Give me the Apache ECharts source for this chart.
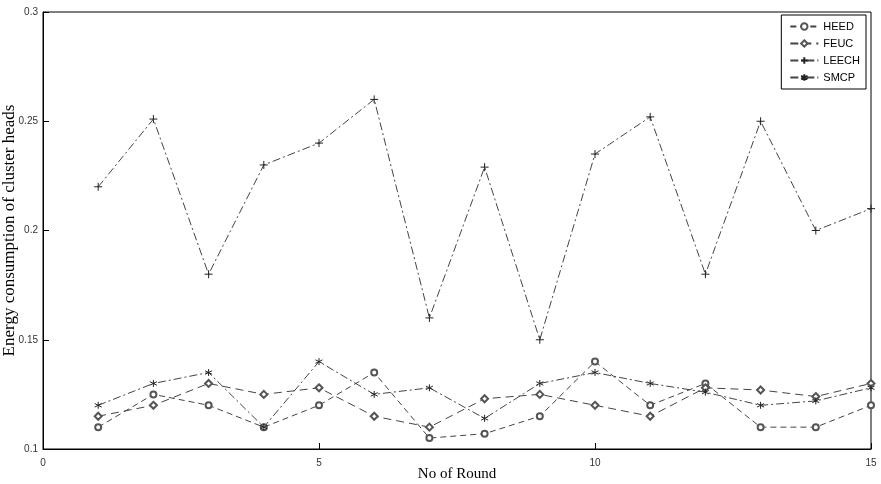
<!DOCTYPE html>
<html><head><meta charset="utf-8">
<script src="https://cdn.jsdelivr.net/npm/echarts@6/dist/echarts.min.js"></script>
<style>html,body{margin:0;padding:0;background:#fff}#c{width:881px;height:484px}</style>
</head><body><div id="c"></div>
<script>
const rounds = [1,2,3,4,5,6,7,8,9,10,11,12,13,14,15];
const heed  = [0.110,0.125,0.120,0.110,0.120,0.135,0.105,0.107,0.115,0.140,0.120,0.130,0.110,0.110,0.120];
const feuc  = [0.115,0.120,0.130,0.125,0.128,0.115,0.110,0.123,0.125,0.120,0.115,0.128,0.127,0.124,0.130];
const leech = [0.220,0.251,0.180,0.230,0.240,0.260,0.160,0.229,0.150,0.235,0.252,0.180,0.250,0.200,0.210];
const smcp  = [0.120,0.130,0.135,0.110,0.140,0.125,0.128,0.114,0.130,0.135,0.130,0.126,0.120,0.122,0.128];
const yTicks = [0.1,0.15,0.2,0.25,0.3];
const xTicks = [0,5,10,15];

const plusSym = 'path://M5,0L5,10M0,5L10,5';
const starSym = 'path://M5,0L5,10M0.7,2.5L9.3,7.5M0.7,7.5L9.3,2.5';
const markCol = '#555';
function pts(arr){ return rounds.map((r,i)=>[r,arr[i]]); }
function ser(name, arr, symbol, size, dash){
  const isPath = symbol.startsWith('path');
  return {
    name, type:'line', data:pts(arr), symbol, symbolSize:size, showAllSymbol:true,
    lineStyle:{color:'#444',width:1,type:dash},
    itemStyle: isPath ? {color:'rgba(0,0,0,0)', borderColor:'#222', borderWidth:1}
                      : {color:markCol, borderWidth:1},
    emphasis:{disabled:true}, animation:false, z:2
  };
}
const chart = echarts.init(document.getElementById('c'));
chart.setOption({
  backgroundColor:'#fff',
  animation:false,
  grid:{left:43,top:12,right:10,bottom:35,show:true,borderColor:'#000',borderWidth:1,
        containLabel:false, outerBoundsMode:'none'},
  legend:{
    orient:'vertical', right:15, top:15, itemWidth:28, itemHeight:8, itemGap:6,
    backgroundColor:'#fff', borderColor:'#000', borderWidth:1, padding:[6,6,6,8],
    textStyle:{fontFamily:'Liberation Sans, Arial', fontSize:11, color:'#000'},
    data:['HEED','FEUC','LEECH','SMCP']
  },
  xAxis:{
    type:'value', min:0, max:15, interval:5,
    axisLine:{lineStyle:{color:'#000'}},
    axisTick:{inside:true,length:6,lineStyle:{color:'#000'}},
    splitLine:{show:false},
    axisLabel:{color:'#333',fontFamily:'Liberation Sans, Arial',fontSize:10,margin:9,
      formatter:v=>xTicks.includes(v)?String(v):''},
    name:'No of Round', nameLocation:'middle', nameGap:18, nameMoveOverlap:false,
    nameTextStyle:{fontFamily:'Liberation Serif, Times New Roman',fontSize:15,color:'#000'}
  },
  yAxis:{
    type:'value', min:0.1, max:0.3, interval:0.05,
    axisLine:{lineStyle:{color:'#000'}},
    axisTick:{inside:true,length:6,lineStyle:{color:'#000'}},
    splitLine:{show:false},
    axisLabel:{color:'#333',fontFamily:'Liberation Sans, Arial',fontSize:10,margin:5,
      formatter:v=>{const t=yTicks.find(k=>Math.abs(k-v)<1e-9);return t===undefined?'':String(t);}},
    name:'Energy consumption of cluster heads', nameLocation:'middle', nameGap:25, nameRotate:90,
    nameMoveOverlap:false,
    nameTextStyle:{fontFamily:'Liberation Serif, Times New Roman',fontSize:17,color:'#000'}
  },
  series:[
    ser('HEED', heed, 'emptyCircle', 6, [6,4]),
    ser('FEUC', feuc, 'emptyDiamond', 7, [8,5]),
    ser('LEECH', leech, plusSym, 8, [8,3,2,3]),
    ser('SMCP', smcp, starSym, 7, [8,3,2,3])
  ]
});
</script></body></html>
